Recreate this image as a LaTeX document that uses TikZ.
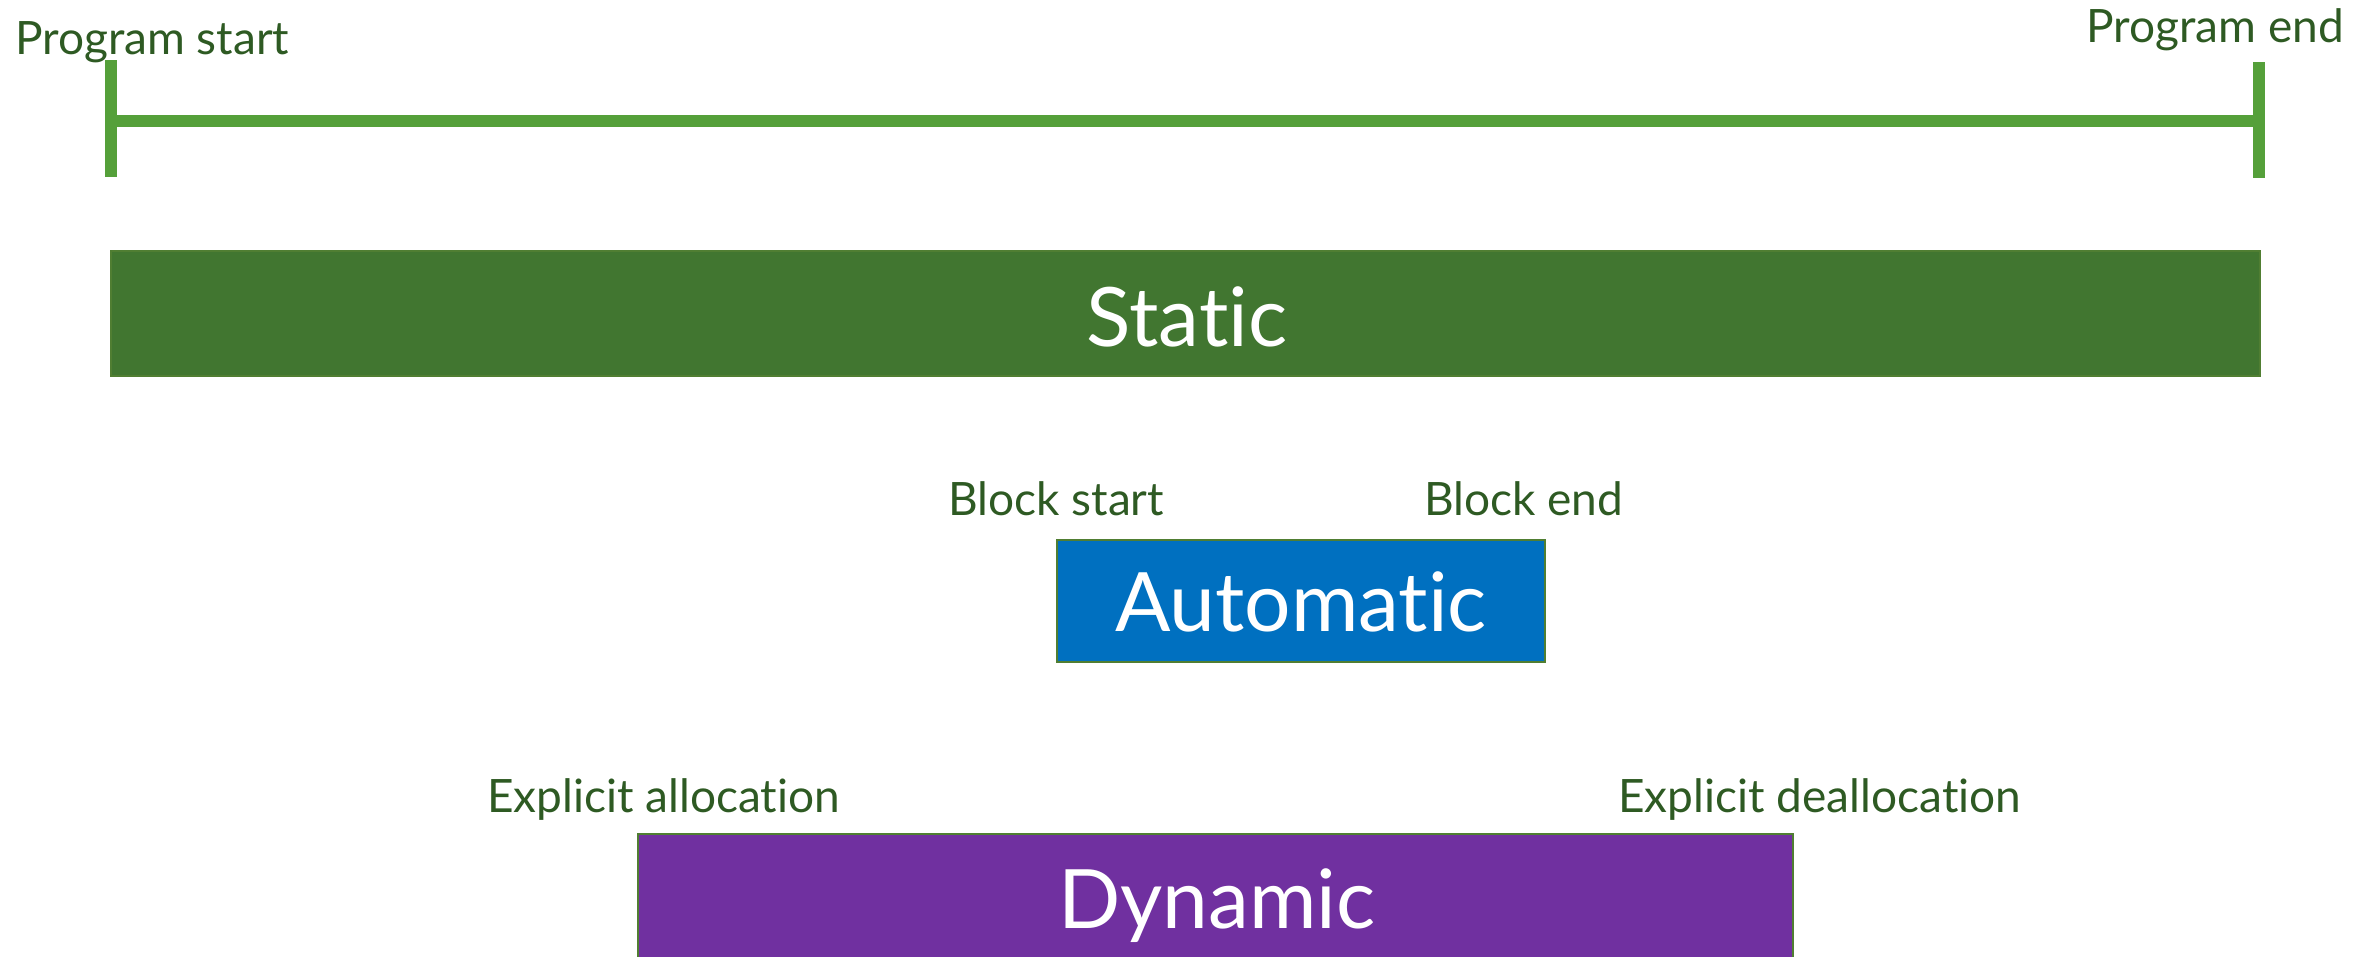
\documentclass[tikz,border=0pt]{standalone}
\usepackage{fontspec}
\setmainfont{Lato}[Ligatures={NoCommon,NoRequired,NoContextual}]
\definecolor{tlgreen}{HTML}{55A03A}
\definecolor{stgreen}{HTML}{417630}
\definecolor{lblgreen}{HTML}{2E5A23}
\definecolor{autoblue}{HTML}{0070C0}
\definecolor{dynpurple}{HTML}{7030A0}
\definecolor{edgegreen}{HTML}{507E32}
\begin{document}
\begin{tikzpicture}[x=1pt,y=-1pt,
  lbl/.style={inner sep=0pt, text=lblgreen, font=\fontsize{46}{54}\selectfont},
  bar/.style={draw=edgegreen, line width=1.5pt},
  bartext/.style={inner sep=0pt, text=white, font=\fontsize{82}{98}\selectfont},
  tl/.style={draw=tlgreen, line width=12pt}]
\useasboundingbox (0,0) rectangle (2377,956);
% timeline
\coordinate (ps1) at (111,60);
\coordinate (ps2) at (111,177);
\coordinate (pe1) at (2259,62);
\coordinate (pe2) at (2259,178);
\coordinate (tla) at (111,121);
\coordinate (tlb) at (2259,121);
\draw[tl] (ps1) -- (ps2);
\draw[tl] (pe1) -- (pe2);
\draw[tl] (tla) -- (tlb);
\node[lbl, anchor=base west] (pstart) at (15,54) {Program start};
\node[lbl, anchor=base east] (pend) at (2344,42) {Program end};
% static
\path[bar, fill=stgreen] (111,251) rectangle (2260,376);
\node[bartext, anchor=base] (static) at (1187,346) {Static};
% automatic
\node[lbl, anchor=base west] (bstart) at (948,515) {Block start};
\node[lbl, anchor=base west] (bend) at (1424,515) {Block end};
\path[bar, fill=autoblue] (1057,540) rectangle (1545,662);
\node[bartext, anchor=base] (auto) at (1301,631) {Automatic};
% dynamic
\node[lbl, anchor=base west] (ealloc) at (487,812) {Explicit allocation};
\node[lbl, anchor=base west] (edealloc) at (1618,812) {Explicit deallocation};
\path[bar, fill=dynpurple] (638,834) rectangle (1793,990);
\node[bartext, anchor=base] (dyn) at (1217,928) {Dynamic};
\end{tikzpicture}
\end{document}
